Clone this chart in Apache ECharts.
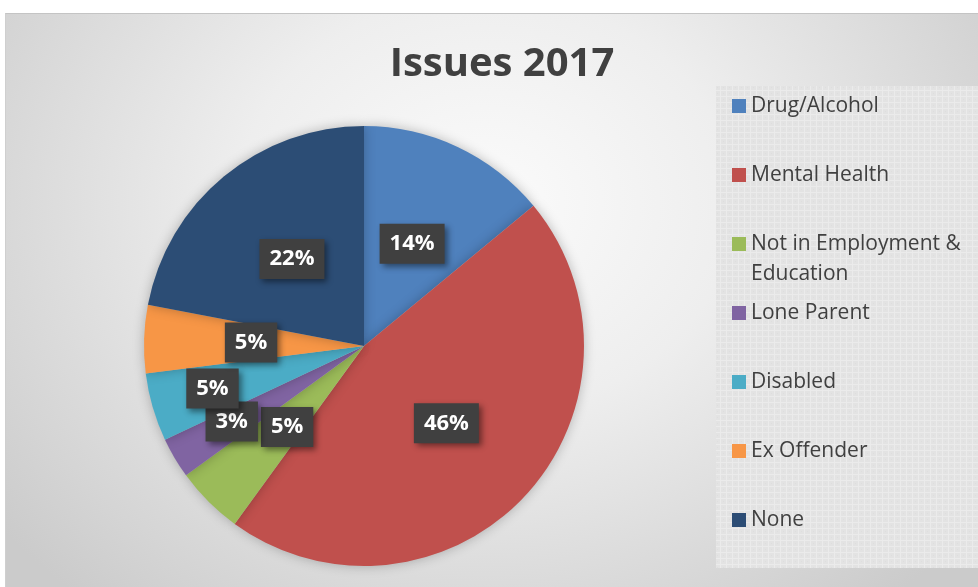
<!DOCTYPE html>
<html>
<head>
<meta charset="utf-8">
<script src="https://cdn.jsdelivr.net/npm/echarts@6/dist/echarts.min.js"></script>
<style>
html,body{margin:0;padding:0;background:#fff;width:978px;height:587px;overflow:hidden;}
#bg{position:absolute;left:5px;top:13px;width:973px;height:574px;border-top:1px solid #c4c4c4;border-left:1px solid #cfcfcf;box-sizing:border-box;
background:radial-gradient(ellipse 620px 520px at 480px 190px,#fbfbfb 0%,#eeeeee 40%,#d4d4d4 85%,#cbcbcb 100%);}
#chart{position:absolute;left:0;top:0;width:978px;height:587px;}
</style>
</head>
<body>
<div id="bg"></div>
<div id="chart"></div>
<script>
const categories = ['Drug/Alcohol','Mental Health','Not in Employment & Education','Lone Parent','Disabled','Ex Offender','None'];
const values = [14, 46, 5, 3, 5, 5, 22];
const colors = ['#4F81BD','#C0504D','#9BBB59','#8064A2','#4BACC6','#F79646','#2C4D75'];
const titleText = 'Issues 2017';

// subtle grid texture for the legend panel
const pc = document.createElement('canvas');
pc.width = 6; pc.height = 6;
const g = pc.getContext('2d');
g.fillStyle = '#e3e3e3'; g.fillRect(0,0,6,6);
g.fillStyle = '#ebebeb'; g.fillRect(0,0,6,1); g.fillRect(0,0,1,6);
g.fillStyle = '#dedede'; g.fillRect(3,3,1,1);

const chart = echarts.init(document.getElementById('chart'), null, {renderer:'canvas'});
chart.setOption({
  backgroundColor: 'transparent',
  animation: false,
  title: {
    text: titleText, left: 497, top: 40, textAlign: 'center',
    textStyle: {fontFamily: 'Open Sans', fontWeight: 'bold', fontSize: 40, color: '#404040'}
  },
  graphic: [
    {type:'rect', z:-1, shape:{x:716, y:86, width:262, height:482}, style:{fill:{image: pc, repeat:'repeat'}}},
    {type:'text', left: 751, top: 264, z: 10, style:{text:'Education', fontFamily:'Open Sans', fontSize:21, fill:'#404040'}}
  ],
  legend: {
    orient: 'vertical', left: 732, top: 94, padding: 0,
    itemWidth: 14, itemHeight: 14, itemGap: 45,
    icon: 'rect',
    data: categories,
    formatter: function(n){ return n === 'Not in Employment & Education' ? 'Not in Employment &' : n; },
    textStyle: {fontFamily: 'Open Sans', fontSize: 21, color: '#404040', lineHeight: 24}
  },
  color: colors,
  series: [{
    type: 'pie',
    center: [364, 346],
    radius: 220,
    startAngle: 90,
    clockwise: true,
    avoidLabelOverlap: false,
    minShowLabelAngle: 0,
    itemStyle: {shadowBlur: 12, shadowColor: 'rgba(0,0,0,0.25)'},
    label: {
      show: true, position: 'inside',
      formatter: '{c}%',
      fontFamily: 'Open Sans', fontWeight: 'bold', fontSize: 22, color: '#ffffff',
      backgroundColor: '#404040', padding: [9, 10, 9, 10],
      shadowColor: 'rgba(0,0,0,0.45)', shadowBlur: 6, shadowOffsetX: 3, shadowOffsetY: 3
    },
    labelLine: {show: false},
    emphasis: {disabled: true},
    labelLayout: function(p){
      if (p.dataIndex === 2) return {hideOverlap: false, dx: 3, dy: 1};
      if (p.dataIndex === 3) return {hideOverlap: false, dx: -35, dy: 18};
      if (p.dataIndex === 4) return {hideOverlap: false, dx: -43, dy: 11};
      return {hideOverlap: false};
    },
    data: categories.map((c, i) => ({name: c, value: values[i]}))
  }]
});
</script>
</body>
</html>
